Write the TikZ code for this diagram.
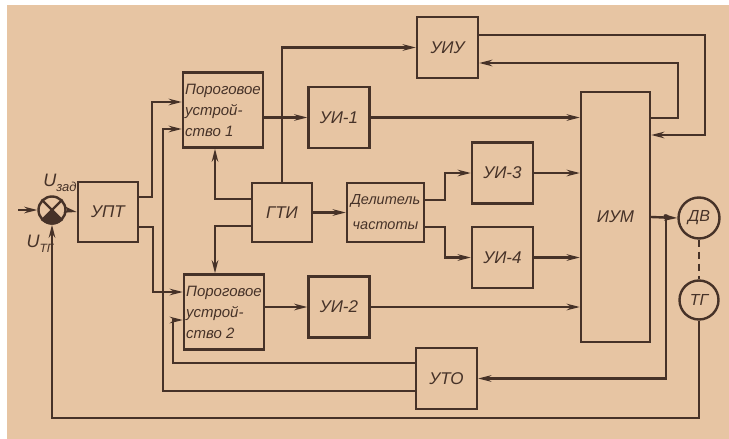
\documentclass[tikz,border=0pt]{standalone}
\usepackage{fontspec}
\setmainfont{Liberation Sans}
\usetikzlibrary{arrows.meta,calc}
\definecolor{bg}{RGB}{231,197,163}
\definecolor{ink}{RGB}{70,50,40}
\begin{document}
\begin{tikzpicture}[x=1pt,y=-1pt,
  ln/.style={draw=ink, line width=2.4pt},
  arr/.style={ln, -{Stealth[length=13pt,width=6.5pt]}},
  blk/.style={draw=ink, line width=2.4pt, inner sep=0pt, text=ink,
    font=\itshape\fontsize{17}{18}\selectfont, align=center},
  sbox/.style={blk, minimum width=61pt, minimum height=61pt},
  pbox/.style={blk, minimum width=80pt, minimum height=75pt, align=left,
    font=\itshape\fontsize{15}{21}\selectfont},
  rnd/.style={circle, draw=ink, line width=2.4pt, inner sep=0pt, text=ink,
    font=\itshape\fontsize{16}{18}\selectfont},
  lbl/.style={text=ink, inner sep=0pt, font=\itshape\fontsize{18}{18}\selectfont}
]
\useasboundingbox (0,0) rectangle (729,439);
\fill[white] (0,0) rectangle (729,439);
\fill[bg] (7,5) rectangle (729,439);

% blocks
\node[sbox, minimum width=60pt, minimum height=60pt] (upt) at (108,212) {УПТ};
\node[pbox] (por1) at (223,110) {Пороговое\\устрой-\\ство 1};
\node[pbox] (por2) at (224,312) {Пороговое\\устрой-\\ство 2};
\node[sbox] (ui1) at (339,117.5) {УИ-1};
\node[sbox, minimum width=60pt, minimum height=59pt] (gti) at (282,212.5) {ГТИ};
\node[blk, minimum width=77pt, minimum height=59pt,
  font=\itshape\fontsize{14.5}{25}\selectfont] (del) at (385.5,212.5) {Делитель\\частоты};
\node[sbox] (ui3) at (502.5,173) {УИ-3};
\node[sbox] (ui4) at (502.5,257.5) {УИ-4};
\node[sbox] (ui2) at (339,307) {УИ-2};
\node[sbox] (uiu) at (447.5,47.5) {УИУ};
\node[blk, minimum width=69pt, minimum height=250pt] (ium) at (615.5,217) {ИУМ};
\node[sbox] (uto) at (446.5,378.5) {УТО};
\node[rnd, minimum size=41pt] (dv) at (699,218) {ДВ};
\node[rnd, minimum size=39pt] (tg) at (699,300) {ТГ};
\node[circle, draw=ink, line width=2.4pt, inner sep=0pt, minimum size=27pt] (sum) at (52,210) {};
\fill[ink] (sum.center) -- (sum.225) -- (sum.240) -- (sum.255) -- (sum.270)
  -- (sum.285) -- (sum.300) -- (sum.315) -- cycle;
\draw[ln] (sum.north west) -- (sum.south east) (sum.north east) -- (sum.south west);

% labels
\node[lbl] (uzad) at (60,183) {U\raisebox{-0.5ex}{\fontsize{13}{13}\selectfont зад}};
\node[lbl] (utg) at (40,244) {U\raisebox{-0.5ex}{\fontsize{12}{12}\selectfont ТГ}};

% coordinates
\coordinate (in) at (18,210);
\coordinate (jn) at (666,217);

% connectors
\draw[arr] (in) -- (sum.west);
\draw[arr] (sum.east) -- (upt.west);
\draw[arr] ([yshift=15pt]upt.east) -- (152,197) -- (152,102) -- ([yshift=8pt]por1.west);
\draw[arr] ([yshift=-15pt]upt.east) -- (153,227) -- (153,292) -- ([yshift=20pt]por2.west);
\draw[arr] ([yshift=13.5pt]gti.west) -- (215,199) -- ([xshift=-8pt]por1.south);
\draw[arr] ([yshift=-13.5pt]gti.west) -- (215,226) -- ([xshift=-9pt]por2.north);
\draw[arr] (gti.north) -- (282,47.5) -- (uiu.west);
\draw[arr] (por1.east |- ui1.west) -- (ui1.west);
\draw[arr] (ui1.east) -- (ium.west |- ui1.east);
\draw[arr] (gti.east) -- (del.west);
\draw[arr] ([yshift=12.5pt]del.east) -- (445,200) -- (445,173) -- (ui3.west);
\draw[arr] ([yshift=-14.5pt]del.east) -- (445,227) -- (445,257.5) -- (ui4.west);
\draw[arr] (ui3.east) -- (ium.west |- ui3.east);
\draw[arr] (ui4.east) -- (ium.west |- ui4.east);
\draw[arr] (por2.east |- ui2.west) -- (ui2.west);
\draw[arr] (ui2.east) -- (ium.west |- ui2.east);
\draw[arr] ([yshift=12.5pt]uiu.east) -- (705,35) -- (705,135) -- ([yshift=82pt]ium.east);
\draw[arr] ([yshift=99pt]ium.east) -- (678,118) -- (678,63) -- ([yshift=-15.5pt]uiu.east);
\draw[arr] (ium.east) -- (dv.west);
\fill[ink] (jn) circle[radius=2.8pt];
\draw[arr] (jn) -- (666,378.5) -- (uto.east);
\draw[ln, dashed, dash pattern=on 7pt off 5pt] (dv.south) -- (tg.north);
\draw[arr] (tg.south) -- (699,418) -- (52,418) -- (sum.south);
\draw[arr] ([yshift=15.5pt]uto.west) -- (173,363) -- (173,320) -- ([yshift=-8pt]por2.west);
\draw[arr] ([yshift=-12.5pt]uto.west) -- (163,391) -- (163,129) -- ([yshift=-19pt]por1.west);
\end{tikzpicture}
\end{document}
